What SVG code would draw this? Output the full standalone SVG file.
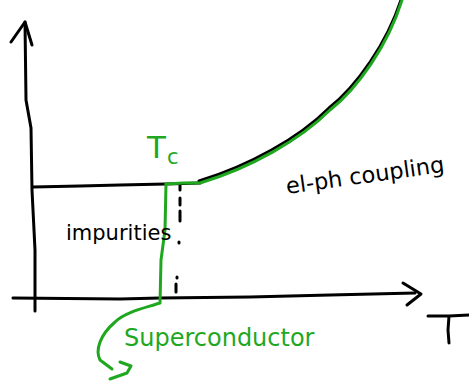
<svg xmlns="http://www.w3.org/2000/svg" width="469" height="381" viewBox="0 0 469 381">
<style>
.ink{fill:none;stroke:#000;stroke-width:3;stroke-linecap:round;stroke-linejoin:round}
.grn{fill:none;stroke:#1fa81f;stroke-width:3;stroke-linecap:round;stroke-linejoin:round}
.tb{font-family:"DejaVu Sans",sans-serif;fill:#000}
.tg{font-family:"DejaVu Sans",sans-serif;fill:#1fa81f}
</style>
<rect width="469" height="381" fill="#fff"/>
<g id="axes">
<path class="ink" d="M25,22 L26,100 L31,128 L32,190 L35,250 L35,311"/>
<path class="ink" d="M11,42 L25,22 L32,45"/>
<path class="ink" d="M13,298 L120,299 L160,298 L250,297 L330,295 L415,293"/>
<path class="ink" d="M403,283 L421,294 L407,305"/>
</g>
<g id="regions">
<path class="ink" d="M33,187 L80,186 L120,185 L166,184 L200,183"/>
<path class="ink" d="M199,181 C249,166 299,138 329,108 C357,86 387,43 401,0"/>
<path class="ink" d="M180,185 L180,190 M180,198 L180,205 M180,211 L180,221 M179,242 L179,243 M177,277 L177,278 M176,284 L176,292"/>
</g>
<g id="curve">
<path class="grn" d="M166,184 L183,183 L200,183 C250,168 300,140 330,110 C358,88 388,45 402,0"/>
<path class="grn" d="M166,184 L165,230 L161,260 L160,303 C145,308 125,312 115,322 C100,335 95,350 100,360 L112,369"/>
<path class="grn" d="M120,362 L131,366 L127,373 L110,379"/>
</g>
<g id="labels">
<text class="tg" x="147" y="158" font-size="31">T</text>
<text class="tg" x="167" y="164" font-size="21">c</text>
<text class="tb" x="66" y="240" font-size="21">impurities</text>
<text class="tb" x="287" y="194" font-size="22.5" transform="rotate(-8 287 194)">el-ph coupling</text>
<text class="tg" x="124" y="346" font-size="24">Superconductor</text>
<path class="ink" d="M428,316 L449,316 L469,315 M449,316 L448,330 L449,343"/>
</g>
</svg>
